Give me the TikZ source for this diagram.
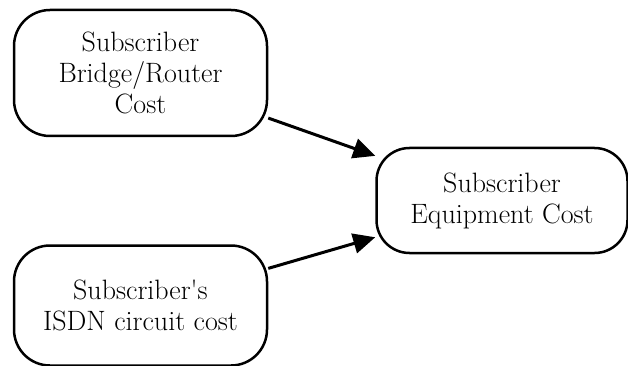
\documentclass[tikz,border=0pt]{standalone}
\usetikzlibrary{arrows.meta}
\begin{document}
\begin{tikzpicture}[x=1pt,y=-1pt,
  box/.style={draw=black,line width=2.5pt,rounded corners=36pt,align=center,
    font=\fontsize{28}{31}\selectfont,inner sep=0pt},
  conn/.style={line width=3pt,-{Triangle[length=22pt,width=20pt]}}]
\useasboundingbox (0,0) rectangle (628,366);
\node[box,minimum width=253pt,minimum height=126pt] (a) at (140.5,73) {Subscriber\\Bridge/Router\\Cost};
\node[box,minimum width=253pt,minimum height=120pt] (b) at (140.5,305.5) {Subscriber\textquotesingle s\\ISDN circuit cost};
\node[box,rounded corners=33pt,minimum width=251pt,minimum height=105pt] (c) at (502,200.5) {Subscriber\\Equipment Cost};
\draw[conn] (a) -- (c);
\draw[conn] (b) -- (c);
\end{tikzpicture}
\end{document}
